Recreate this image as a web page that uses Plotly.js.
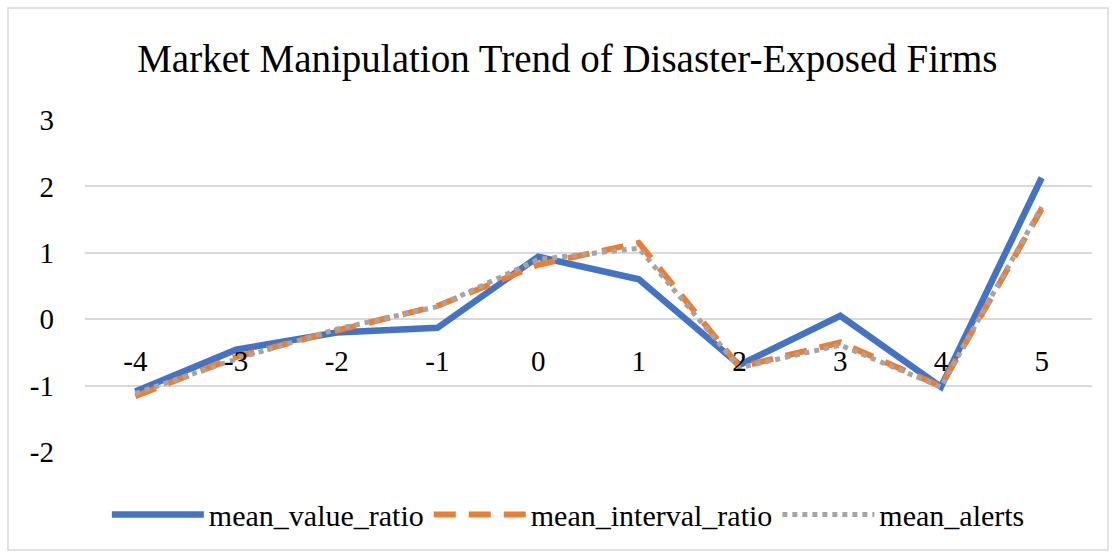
<!DOCTYPE html>
<html>
<head>
<meta charset="utf-8">
<script src="https://cdn.plot.ly/plotly-3.0.1.min.js"></script>
<style>html,body{margin:0;padding:0;background:#fff;}#chart{width:1116px;height:558px;}</style>
</head>
<body>
<div id="chart"></div>
<script>
const categories = ["-4", "-3", "-2", "-1", "0", "1", "2", "3", "4", "5"];
const meanValueRatio = [-1.09, -0.46, -0.2, -0.13, 0.94, 0.6, -0.69, 0.05, -1.02, 2.13];
const meanIntervalRatio = [-1.16, -0.57, -0.17, 0.2, 0.82, 1.15, -0.72, -0.35, -1.01, 1.66];
const meanAlerts = [-1.12, -0.6, -0.15, 0.19, 0.9, 1.07, -0.73, -0.39, -1.02, 1.69];
const yTicks = [-2, -1, 0, 1, 2, 3];
const yTickText = ["-2", "-1", "0", "1", "2", "3"];

const font = "'Liberation Serif'";

const traces = [
  {x: categories, y: meanValueRatio, name: "mean_value_ratio", type: "scatter", mode: "lines",
   line: {color: "#4472C4", width: 6.5}},
  {x: categories, y: meanIntervalRatio, name: "mean_interval_ratio", type: "scatter", mode: "lines",
   line: {color: "#ED7D31", width: 6, dash: "22px,13px"}},
  {x: categories, y: meanAlerts, name: "mean_alerts", type: "scatter", mode: "lines",
   line: {color: "#A5A5A5", width: 5, dash: "dot"}}
];

const layout = {
  width: 1116, height: 558,
  paper_bgcolor: "#ffffff", plot_bgcolor: "#ffffff",
  margin: {l: 85, r: 24, t: 120, b: 106},
  font: {family: font, color: "#000000", size: 28},
  title: {text: "Market Manipulation Trend of Disaster-Exposed Firms",
          font: {family: font, size: 39, color: "#000000"},
          x: 0.479, xanchor: "center", y: 0.895, yanchor: "middle", xref: "paper"},
  xaxis: {type: "category", range: [-0.5, 9.5], showgrid: false, zeroline: false, showline: false,
          ticks: "", anchor: "free", position: 0.4, ticklabelstandoff: 22,
          tickfont: {family: font, size: 29, color: "#000000"}},
  yaxis: {range: [-2, 3], tickvals: yTicks, ticktext: yTickText, showgrid: true, gridcolor: "#d9d9d9", gridwidth: 2,
          zeroline: false, showline: false, ticks: "", ticklabelstandoff: 30,
          tickfont: {family: font, size: 29, color: "#000000"}},
  showlegend: true,
  legend: {orientation: "h", x: 0.48, xanchor: "center", y: -0.11, yanchor: "top",
           font: {family: font, size: 30, color: "#000000"}, itemwidth: 92,
           bgcolor: "rgba(0,0,0,0)"},
  shapes: [
    {type: "rect", xref: "paper", yref: "paper",
     x0: (8 - 85) / 1007, x1: (1108 - 85) / 1007, y0: (452 - 550) / 332, y1: (452 - 8) / 332,
     line: {color: "#d9d9d9", width: 1.5}, fillcolor: "rgba(0,0,0,0)", layer: "below"}
  ]
};

Plotly.newPlot("chart", traces, layout, {displayModeBar: false, staticPlot: true});
</script>
</body>
</html>
